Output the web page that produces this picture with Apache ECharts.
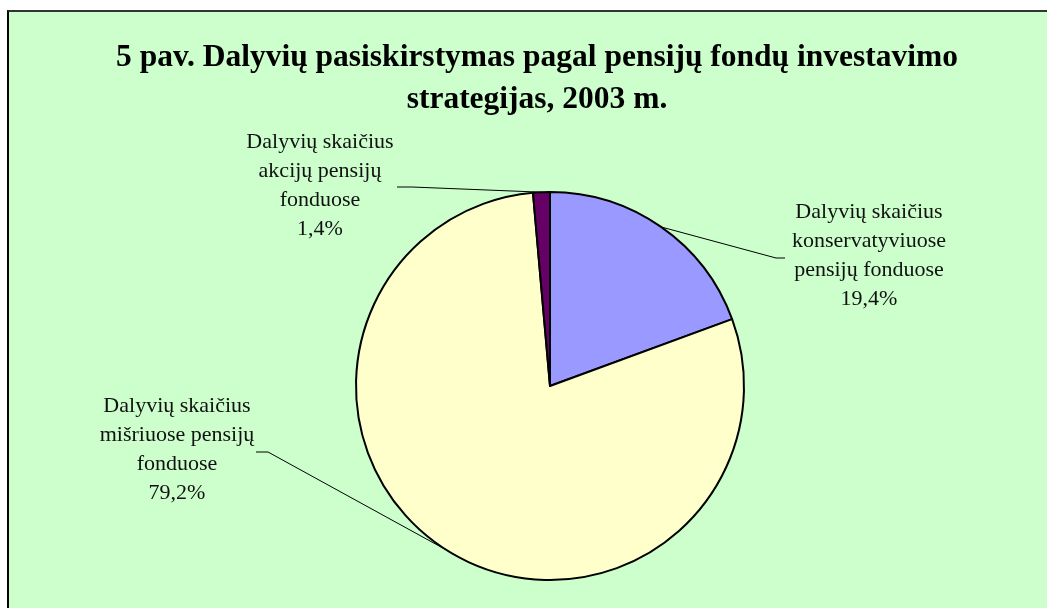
<!DOCTYPE html>
<html>
<head>
<meta charset="utf-8">
<script src="https://cdn.jsdelivr.net/npm/echarts@6/dist/echarts.min.js"></script>
<style>
  html, body { margin: 0; padding: 0; background: #fff; }
  #frame {
    position: absolute; left: 7px; top: 10px; width: 1040px; height: 598px;
    box-sizing: border-box; background: #CCFFCC;
    border-left: 2px solid #000; border-top: 2px solid #333;
  }
  #main { position: absolute; left: 0; top: 0; width: 1047px; height: 608px; }
</style>
</head>
<body>
<div id="frame"></div>
<div id="main"></div>
<script>
const titleText = '5 pav. Dalyvių pasiskirstymas pagal pensijų fondų investavimo\nstrategijas, 2003 m.';
const categories = [
  'Dalyvių skaičius\nkonservatyviuose\npensijų fonduose',
  'Dalyvių skaičius\nmišriuose pensijų\nfonduose',
  'Dalyvių skaičius\nakcijų pensijų\nfonduose'
];
const shares = [19.4, 79.2, 1.4];
const colors = ['#9999FF', '#FFFFCC', '#660066'];

// where each label block sits and where its leader line bends
const labelSpots = [
  { x: 869, y: 256, bend: [776, 258], end: [785, 258] },
  { x: 177, y: 450, bend: [268, 452], end: [256, 452] },
  { x: 320, y: 186, bend: [412, 187], end: [397, 187] }
];

const serif = "'Liberation Serif', 'Times New Roman', serif";
const chart = echarts.init(document.getElementById('main'), null, { renderer: 'canvas' });

const option = {
  backgroundColor: 'transparent',
  animation: false,
  graphic: [{
    type: 'text',
    x: 537,
    y: 79,
    style: {
      text: titleText,
      fill: '#000',
      font: 'bold 31.5px ' + serif,
      lineHeight: 42,
      align: 'center',
      verticalAlign: 'middle'
    }
  }],
  series: [{
    type: 'pie',
    center: [550, 386],
    radius: 194,
    startAngle: 90,
    clockwise: true,
    avoidLabelOverlap: false,
    itemStyle: { borderColor: '#000', borderWidth: 2 },
    emphasis: { disabled: true },
    label: {
      show: true,
      color: '#111',
      fontFamily: serif,
      fontSize: 22,
      lineHeight: 29,
      align: 'center',
      formatter: p => p.name + '\n' + p.value.toFixed(1).replace('.', ',') + '%'
    },
    labelLine: { show: true, smooth: false, lineStyle: { color: '#000', width: 1 } },
    labelLayout: function (params) {
      const s = labelSpots[params.dataIndex];
      const start = params.labelLinePoints ? params.labelLinePoints[0] : s.bend;
      return {
        x: s.x,
        y: s.y,
        align: 'center',
        verticalAlign: 'middle',
        labelLinePoints: [start, s.bend, s.end]
      };
    },
    data: categories.map((name, i) => ({
      name: name,
      value: shares[i],
      itemStyle: { color: colors[i] }
    }))
  }]
};
chart.setOption(option);
</script>
</body>
</html>
